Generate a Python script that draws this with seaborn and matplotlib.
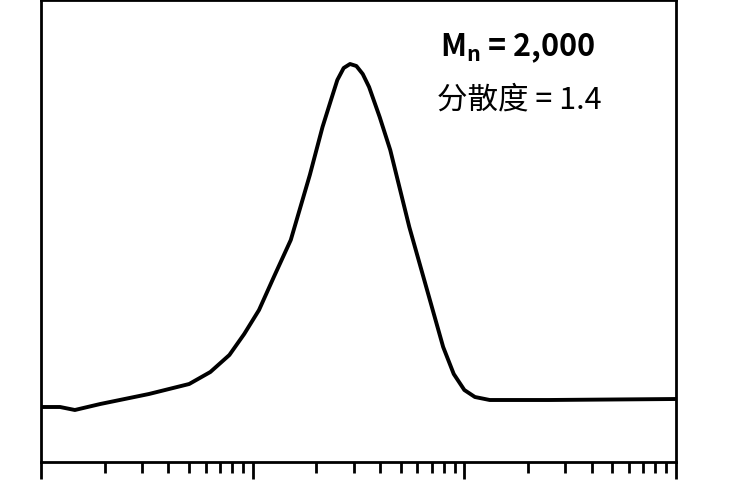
import numpy as np
import pandas as pd
import matplotlib
matplotlib.use("Agg")
import matplotlib.pyplot as plt
import seaborn as sns
from matplotlib.ticker import LogLocator, NullFormatter

# GPC trace (log10 molar mass vs detector signal)
log_m = [2.0, 2.09, 2.16, 2.28, 2.51, 2.70, 2.80, 2.89, 2.96, 3.03, 3.10, 3.18,
         3.27, 3.33, 3.37, 3.40, 3.43, 3.46, 3.49, 3.52, 3.55, 3.60, 3.65,
         3.74, 3.84, 3.90, 3.95, 4.00, 4.05, 4.12, 4.40, 5.0]
signal = [55, 55, 52, 58, 68, 78, 90, 107, 128, 152, 185, 222,
          287, 335, 362, 382, 394, 398, 396, 388, 375, 345, 312,
          235, 160, 115, 88, 72, 65, 62, 62, 63]
mn_label = r"M$_\mathrm{n}$ = 2,000"
pdi_label = "分散度 = 1.4"

plt.rcParams["font.family"] = "Noto Sans CJK SC"
plt.rcParams["mathtext.fontset"] = "custom"
plt.rcParams["mathtext.rm"] = "Noto Sans CJK SC:bold"

df = pd.DataFrame({"M": 10 ** np.array(log_m), "signal": signal})

fig = plt.figure(figsize=(7.5, 5), dpi=100)
ax = fig.add_axes([41 / 750, 38 / 500, 635 / 750, 462 / 500])
sns.lineplot(data=df, x="M", y="signal", ax=ax, color="black", linewidth=2.8)
ax.set_xscale("log")
ax.set_xlim(1e2, 1e5)
ax.set_ylim(0, 462)
ax.xaxis.set_major_locator(LogLocator(base=10))
ax.xaxis.set_minor_locator(LogLocator(base=10, subs=np.arange(2, 10)))
ax.xaxis.set_major_formatter(NullFormatter())
ax.xaxis.set_minor_formatter(NullFormatter())
ax.tick_params(axis="x", which="major", direction="out", length=12, width=2)
ax.tick_params(axis="x", which="minor", direction="out", length=8, width=2)
ax.set_yticks([])
ax.set_xlabel("")
ax.set_ylabel("")
for s in ax.spines.values():
    s.set_linewidth(2)

fig.text(440 / 750, 1 - 48 / 500, mn_label, fontsize=22, va="center", fontweight="bold")
fig.text(437 / 750, 1 - 100 / 500, pdi_label, fontsize=22, va="center", fontweight="medium")

fig.savefig("out.png", dpi=100)
